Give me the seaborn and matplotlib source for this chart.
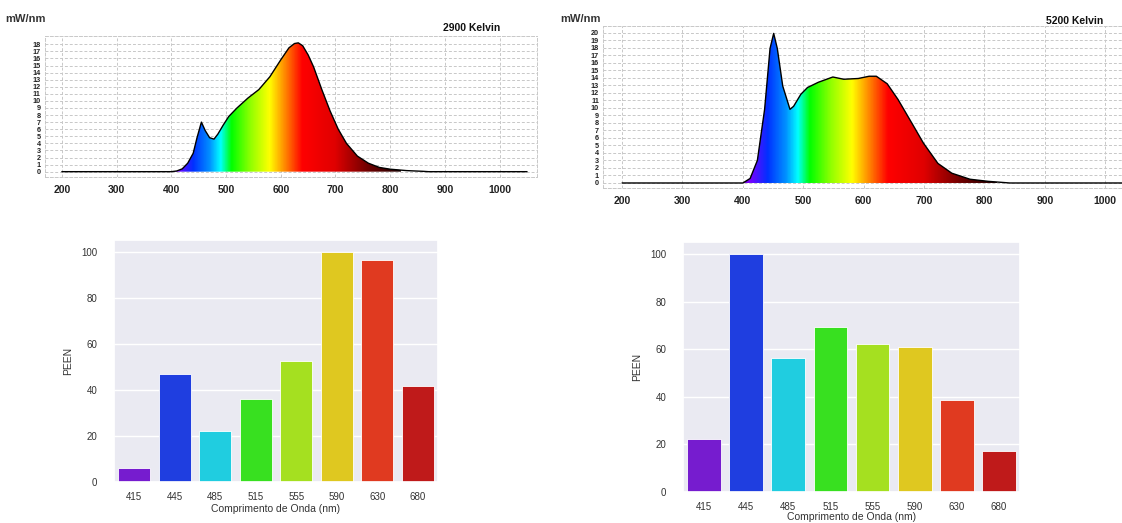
import numpy as np
import pandas as pd
import matplotlib
matplotlib.use("Agg")
import matplotlib.pyplot as plt
from matplotlib.colors import LinearSegmentedColormap
import seaborn as sns

# ---- spectra ----
nm_2900 = [200, 400, 410, 420, 430, 440, 447, 455, 462, 470, 478, 485, 495, 505, 520, 540,
           560, 580, 600, 615, 625, 632, 640, 650, 660, 675, 690, 705, 720, 740, 760, 780,
           800, 830, 860, 870, 1050]
mw_2900 = [0, 0, 0.1, 0.4, 1.2, 2.6, 4.8, 7.0, 5.8, 4.8, 4.6, 5.3, 6.6, 7.8, 9.0, 10.4,
           11.6, 13.4, 15.8, 17.5, 18.1, 18.2, 17.8, 16.5, 14.8, 11.6, 8.6, 6.0, 4.0, 2.2, 1.2, 0.6,
           0.35, 0.15, 0.05, 0, 0]

nm_5200 = [200, 400, 412, 424, 436, 445, 451, 457, 466, 478, 484, 496, 507, 525, 549, 567,
           591, 609, 621, 639, 657, 681, 699, 723, 746, 776, 806, 842, 1050]
mw_5200 = [0, 0, 0.6, 3.0, 9.8, 17.9, 19.9, 17.9, 12.9, 9.8, 10.2, 11.8, 12.7, 13.4, 14.1, 13.8,
           13.9, 14.2, 14.2, 13.2, 11.1, 7.8, 5.3, 2.6, 1.3, 0.5, 0.22, 0, 0]

# ---- PEEN bars ----
wavelengths = ["415", "445", "485", "515", "555", "590", "630", "680"]
peen_2900 = [6.2, 46.8, 22.2, 35.9, 52.3, 100, 96.5, 41.6]
peen_5200 = [22.4, 100, 56.1, 69.1, 62.2, 61.1, 38.7, 17.1]
bar_colors = ["#761ccf", "#1f3ee0", "#20cde0", "#38e020", "#a5e020", "#dfc820", "#e03a20", "#bf1a1a"]

# visible-light gradient used to paint under the spectra
spec_nm = [380, 410, 440, 470, 490, 510, 545, 580, 610, 640, 700, 760, 820]
spec_col = ["#4b0082", "#7a00ff", "#0030ff", "#0090ff", "#00ffff", "#00ff00", "#90ff00",
            "#ffff00", "#ff8000", "#ff0000", "#e00000", "#700000", "#200000"]
pos = [(n - spec_nm[0]) / (spec_nm[-1] - spec_nm[0]) for n in spec_nm]
spec_cmap = LinearSegmentedColormap.from_list("spec", list(zip(pos, spec_col)))

sns.set_theme(style="darkgrid")
plt.rcParams['font.family'] = ['Liberation Sans', 'DejaVu Sans']

fig = plt.figure(figsize=(11.22, 5.23), dpi=100)


def spectrum_panel(rect, nm, mw, xlim, ylim, ymax_tick, kelvin, kx, ky, unit_xy):
    ax = fig.add_axes(rect)
    ax.set_facecolor("white")
    poly = ax.fill_between(nm, mw, color="none", lw=0)
    grad = np.linspace(spec_nm[0], spec_nm[-1], 600)[None, :]
    im = ax.imshow(grad, cmap=spec_cmap, aspect="auto",
                   extent=[spec_nm[0], spec_nm[-1], 0, max(mw) + 1], origin="lower", zorder=2)
    im.set_clip_path(poly.get_paths()[0], transform=ax.transData)
    sns.lineplot(x=nm, y=mw, ax=ax, color="black", lw=1.0, zorder=3, sort=False)
    ax.set_xlim(*xlim)
    ax.set_ylim(*ylim)
    ax.set_xticks(range(200, 1001, 100))
    ax.set_yticks(range(0, ymax_tick + 1))
    ax.grid(True, color="#c8c8c8", ls=(0, (3, 2)), lw=0.7)
    for s in ax.spines.values():
        s.set_visible(True)
        s.set_color("#c8c8c8")
        s.set_linestyle((0, (3, 2)))
        s.set_linewidth(0.7)
    ax.tick_params(axis="x", labelsize=7.5, pad=6, length=0)
    ax.tick_params(axis="y", labelsize=5.2, pad=1, length=2)
    for t in ax.get_xticklabels() + ax.get_yticklabels():
        t.set_fontweight("bold")
        t.set_color("#222222")
    fig.text(unit_xy[0], unit_xy[1], "mW/nm", fontsize=8, fontweight="bold", color="#333333")
    fig.text(kx, ky, kelvin, fontsize=7.5, fontweight="bold", color="#111111")
    return ax


spectrum_panel([0.040, 0.6616, 0.439, 0.270], nm_2900, mw_2900, (169, 1069), (-0.75, 19.2), 18,
               "2900 Kelvin", 0.395, 0.940, (0.005, 0.958))
spectrum_panel([0.5375, 0.6405, 0.4626, 0.31], nm_5200, mw_5200, (168.5, 1028), (-0.67, 20.9), 20,
               "5200 Kelvin", 0.932, 0.955, (0.499, 0.958))


def peen_panel(rect, vals, xpad):
    ax = fig.add_axes(rect)
    df = pd.DataFrame({"wl": wavelengths, "peen": vals})
    sns.barplot(data=df, x="wl", y="peen", hue="wl", palette=bar_colors, saturation=1,
                legend=False, ax=ax, edgecolor="white", linewidth=0.6)
    ax.set_ylim(0, 105)
    ax.set_yticks([0, 20, 40, 60, 80, 100])
    ax.set_xlabel("Comprimento de Onda (nm)", fontsize=7.5, color="#333333", labelpad=xpad)
    ax.set_ylabel("PEEN", fontsize=7.5, color="#333333", labelpad=6)
    ax.tick_params(labelsize=7, colors="#333333")
    ax.tick_params(axis="x", pad=1.5)
    ax.tick_params(axis="y", pad=6)
    return ax


peen_panel([0.1016, 0.0784, 0.2888, 0.4627], peen_2900, 1)
peen_panel([0.6087, 0.0593, 0.3004, 0.478], peen_5200, 0)

fig.savefig("out.png", dpi=100)
